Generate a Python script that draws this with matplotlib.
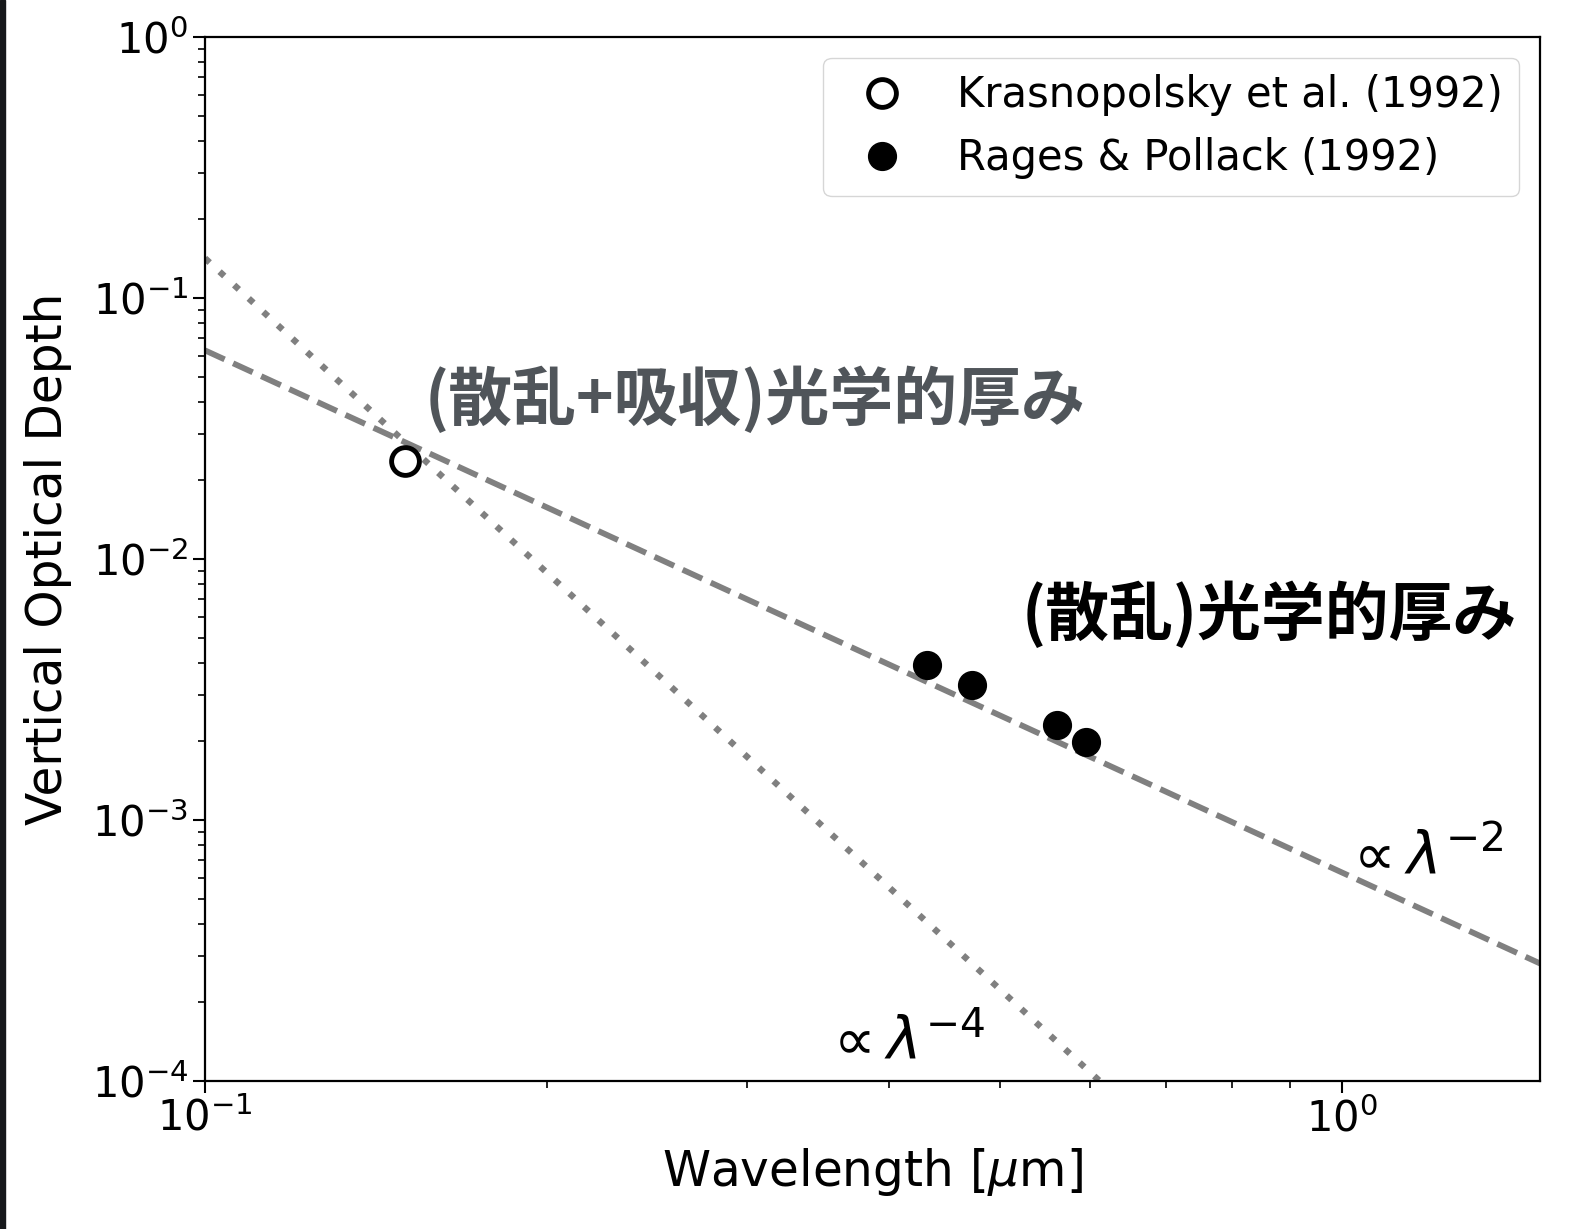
import matplotlib
matplotlib.use("Agg")
import matplotlib.pyplot as plt
from matplotlib.patches import Rectangle

# datos
kras_x = [0.15]
kras_y = [0.0237]
rages_x = [0.4315, 0.473, 0.5615, 0.5955]
rages_y = [0.00393, 0.00329, 0.00231, 0.00199]

# rectas de ajuste (extremos)
l2_x = [0.1, 1.5]
l2_y = [0.063, 0.00028]
l4_x = [0.1, 0.6124]
l4_y = [0.142, 0.0001]

fig = plt.figure(figsize=(15.72, 12.29), dpi=100)
ax = fig.add_axes([0.1304, 0.1204, 0.8492, 0.8495])

ax.plot(l2_x, l2_y, color="gray", lw=4.2, linestyle="--")
ax.plot(l4_x, l4_y, color="gray", lw=4.6, linestyle=(0, (1, 2.1)))

ax.plot(kras_x, kras_y, "o", ms=20, mfc="white", mec="black", mew=3.5,
        label="Krasnopolsky et al. (1992)")
ax.plot(rages_x, rages_y, "o", ms=20, color="black", label="Rages & Pollack (1992)")

ax.set_xscale("log")
ax.set_yscale("log")
ax.set_xlim(0.1, 1.494)
ax.set_ylim(1e-4, 1)

ax.set_xlabel(r"Wavelength [$\mu$m]", fontsize=35)
ax.set_ylabel("Vertical Optical Depth", fontsize=35, labelpad=14)
ax.tick_params(which="major", labelsize=30, length=8.5, width=1.5)
ax.tick_params(which="minor", length=5, width=1.2)
for s in ax.spines.values():
    s.set_linewidth(1.6)

ax.text(0.156, 0.0407, "(散乱+吸収)光学的厚み", family=["Noto Sans CJK JP"],
        fontweight="bold", fontsize=46, color="#50555a", va="center")
ax.text(0.523, 0.0061, "(散乱)光学的厚み", family=["Noto Sans CJK JP"],
        fontweight="bold", fontsize=46, color="black", va="center")
ax.text(1.0, 7.15e-4, r"$\propto \lambda^{-2}$", fontsize=42, va="center")
ax.text(0.349, 1.4e-4, r"$\propto \lambda^{-4}$", fontsize=42, va="center")

ax.legend(loc="upper right", fontsize=30, handletextpad=0.8)

# franja oscura del borde izquierdo
fig.patches.append(Rectangle((0, 0), 5 / 1572, 1, transform=fig.transFigure,
                             color="#16181b", zorder=10))

fig.savefig("out.png", dpi=100)
